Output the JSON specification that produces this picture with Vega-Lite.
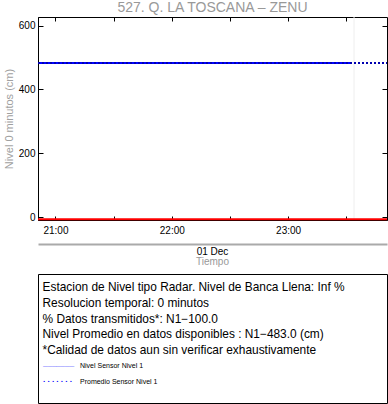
{
  "$schema": "https://vega.github.io/schema/vega-lite/v6.json",
  "background": "white",
  "padding": {"left": 2, "top": 0, "right": 1, "bottom": 1},
  "config": {"font": "Liberation Sans", "view": {"stroke": null}, "concat": {"spacing": 5}},
  "datasets": {
    "niveles": [
      {"hora": "2023-12-01T20:51:00", "nivel": 483, "serie": "Nivel Sensor Nivel 1"},
      {"hora": "2023-12-01T21:00:00", "nivel": 483, "serie": "Nivel Sensor Nivel 1"},
      {"hora": "2023-12-01T22:00:00", "nivel": 483, "serie": "Nivel Sensor Nivel 1"},
      {"hora": "2023-12-01T23:00:00", "nivel": 483, "serie": "Nivel Sensor Nivel 1"},
      {"hora": "2023-12-01T23:32:00", "nivel": 483, "serie": "Nivel Sensor Nivel 1"},
      {"hora": "2023-12-01T20:51:00", "nivel": 483, "serie": "Promedio Sensor Nivel 1"},
      {"hora": "2023-12-01T23:51:00", "nivel": 483, "serie": "Promedio Sensor Nivel 1"},
      {"hora": "2023-12-01T20:51:00", "nivel": -7, "serie": "Referencia"},
      {"hora": "2023-12-01T23:51:00", "nivel": -7, "serie": "Referencia"},
      {"hora": "2023-12-01T23:34:00", "nivel": -9, "serie": "Marcador"},
      {"hora": "2023-12-01T23:34:00", "nivel": 627, "serie": "Marcador"}
    ],
    "marcador": [{"hora": "2023-12-01T23:34:00"}],
    "caja": [
      {"fila": 1, "texto": "Estacion de Nivel tipo Radar. Nivel de Banca Llena:  Inf %", "tipo": "texto"},
      {"fila": 2, "texto": "Resolucion temporal: 0 minutos", "tipo": "texto"},
      {"fila": 3, "texto": "% Datos transmitidos*: N1\u2212100.0", "tipo": "texto"},
      {"fila": 4, "texto": "Nivel Promedio en datos disponibles : N1\u2212483.0 (cm)", "tipo": "texto"},
      {"fila": 5, "texto": "*Calidad de datos aun sin verificar exhaustivamente", "tipo": "texto"},
      {"fila": 6, "texto": "Nivel Sensor Nivel 1", "tipo": "leyenda", "muestra": "_______"},
      {"fila": 7, "texto": "Promedio Sensor Nivel 1", "tipo": "leyenda", "muestra": ". . . . . . ."}
    ]
  },
  "vconcat": [
    {
      "title": {"text": "527. Q. LA TOSCANA \u2013 ZENU", "fontSize": 14, "fontWeight": "normal", "color": "#999999", "offset": 0, "anchor": "middle"},
      "width": 349,
      "height": 203,
      "view": {"stroke": "black"},
      "data": {"name": "niveles"},
      "layer": [
        {
          "transform": [{"filter": "datum.serie == 'Marcador'"}],
          "mark": {"type": "line", "color": "#eeeeee", "strokeWidth": 1},
          "encoding": {
            "x": {"field": "hora", "type": "temporal"},
            "y": {"field": "nivel", "type": "quantitative"}
          }
        },
        {
          "transform": [{"filter": "datum.serie == 'Nivel Sensor Nivel 1'"}],
          "mark": {"type": "line", "color": "#0000ff", "strokeWidth": 2},
          "encoding": {
            "x": {"field": "hora", "type": "temporal",
              "scale": {"domain": [{"year": 2023, "month": 12, "date": 1, "hours": 20, "minutes": 51}, {"year": 2023, "month": 12, "date": 1, "hours": 23, "minutes": 51}]},
              "axis": {"title": null, "ticks": false,
                "values": [
                  {"year": 2023, "month": 12, "date": 1, "hours": 21, "minutes": 0},
                  {"year": 2023, "month": 12, "date": 1, "hours": 21, "minutes": 15},
                  {"year": 2023, "month": 12, "date": 1, "hours": 21, "minutes": 30},
                  {"year": 2023, "month": 12, "date": 1, "hours": 21, "minutes": 45},
                  {"year": 2023, "month": 12, "date": 1, "hours": 22, "minutes": 0},
                  {"year": 2023, "month": 12, "date": 1, "hours": 22, "minutes": 15},
                  {"year": 2023, "month": 12, "date": 1, "hours": 22, "minutes": 30},
                  {"year": 2023, "month": 12, "date": 1, "hours": 22, "minutes": 45},
                  {"year": 2023, "month": 12, "date": 1, "hours": 23, "minutes": 0},
                  {"year": 2023, "month": 12, "date": 1, "hours": 23, "minutes": 15},
                  {"year": 2023, "month": 12, "date": 1, "hours": 23, "minutes": 30},
                  {"year": 2023, "month": 12, "date": 1, "hours": 23, "minutes": 45}
                ],
                "labelExpr": "minutes(datum.value) == 0 ? timeFormat(datum.value, '%H:%M') : ''",
                "grid": true, "gridColor": "black", "gridWidth": 1, "gridDash": [4, 195, 4, 1000],
                "labelPadding": 5, "labelFontSize": 10, "labelColor": "black", "domainColor": "black",
                "labelOverlap": false, "labelFlush": false}},
            "y": {"field": "nivel", "type": "quantitative",
              "scale": {"domain": [-9, 627], "nice": false, "zero": false},
              "axis": {"title": "Nivel 0 minutos (cm)", "titleColor": "#a0a0a0", "titleFontWeight": "normal", "titleFontSize": 11, "ticks": false,
                "values": [0, 100, 200, 300, 400, 500, 600],
                "grid": true, "gridColor": "black", "gridWidth": 1, "gridDash": [5, 339, 5, 1000],
                "labelPadding": 3, "labelFontSize": 10, "labelColor": "black", "domainColor": "black",
                "labelOverlap": false, "labelFlush": false}}
          }
        },
        {
          "transform": [{"filter": "datum.serie == 'Promedio Sensor Nivel 1'"}],
          "mark": {"type": "line", "color": "#0000b0", "strokeWidth": 2, "strokeDash": [2, 2]},
          "encoding": {
            "x": {"field": "hora", "type": "temporal"},
            "y": {"field": "nivel", "type": "quantitative"}
          }
        },
        {
          "transform": [{"filter": "datum.serie == 'Referencia'"}],
          "mark": {"type": "line", "color": "#ff0000", "strokeWidth": 2},
          "encoding": {
            "x": {"field": "hora", "type": "temporal"},
            "y": {"field": "nivel", "type": "quantitative"}
          }
        }
      ]
    },
    {
      "width": 349,
      "height": 1,
      "title": {"text": "01 Dec", "subtitle": "Tiempo", "orient": "bottom", "anchor": "middle", "fontSize": 10, "fontWeight": "normal", "color": "black", "subtitleFontSize": 10, "subtitleColor": "#999999", "subtitlePadding": 0, "offset": 0},
      "data": {"name": "marcador"},
      "mark": {"type": "point", "opacity": 0},
      "encoding": {
        "x": {"field": "hora", "type": "temporal",
          "scale": {"domain": [{"year": 2023, "month": 12, "date": 1, "hours": 20, "minutes": 51}, {"year": 2023, "month": 12, "date": 1, "hours": 23, "minutes": 51}]},
          "axis": {"orient": "top", "title": null, "labels": false, "ticks": false, "grid": false, "domainColor": "#aaaaaa", "domainWidth": 2}}
      }
    },
    {
      "width": 349,
      "height": 129,
      "view": {"stroke": "black", "strokeWidth": 1},
      "data": {"name": "caja"},
      "layer": [
        {
          "transform": [{"filter": "datum.tipo == 'texto'"}],
          "mark": {"type": "text", "align": "left", "baseline": "middle", "fontSize": 11.9, "color": "black"},
          "encoding": {
            "x": {"value": 4.5},
            "y": {"field": "fila", "type": "quantitative", "scale": {"domain": [0.206, 8.3], "reverse": true, "nice": false, "zero": false}, "axis": null},
            "text": {"field": "texto"}
          }
        },
        {
          "transform": [{"filter": "datum.tipo == 'leyenda'"}],
          "mark": {"type": "text", "align": "left", "baseline": "middle", "fontSize": 7, "color": "black"},
          "encoding": {
            "x": {"value": 42},
            "y": {"field": "fila", "type": "quantitative"},
            "text": {"field": "texto"}
          }
        },
        {
          "transform": [{"filter": "datum.tipo == 'leyenda'"}],
          "mark": {"type": "text", "align": "left", "baseline": "middle", "fontSize": 8, "fontWeight": "bold", "color": "#0000ff", "dy": -2},
          "encoding": {
            "x": {"value": 5},
            "y": {"field": "fila", "type": "quantitative"},
            "text": {"field": "muestra"}
          }
        }
      ]
    }
  ]
}
